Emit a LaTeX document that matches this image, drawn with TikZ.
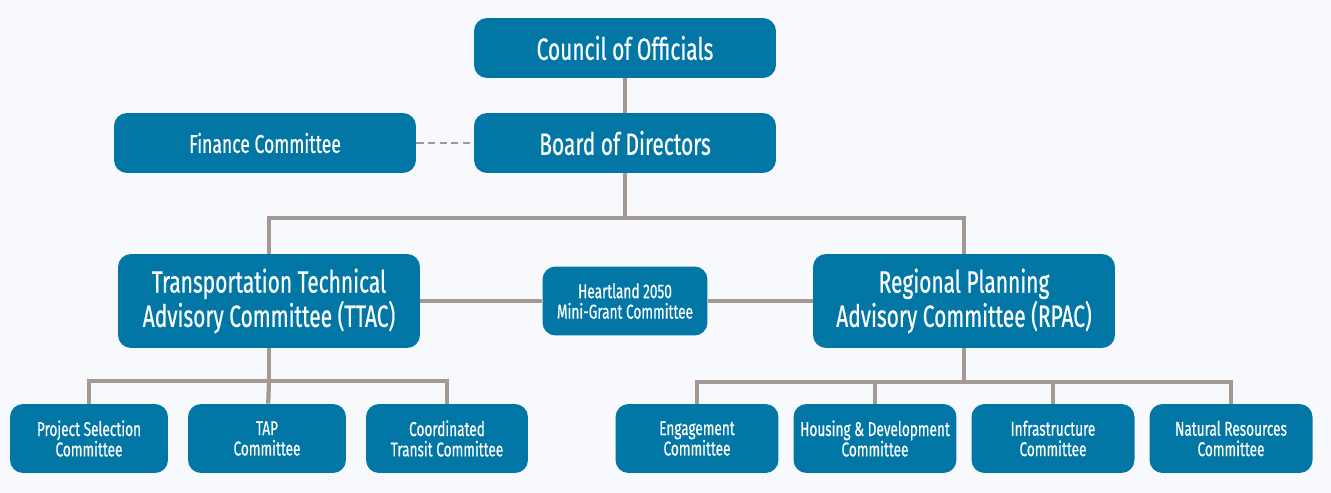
\documentclass[tikz,border=0pt]{standalone}
\usepackage{fontspec}
\setmainfont{Fira Sans}[FakeStretch=0.68, FakeBold=0.5]
\definecolor{boxblau}{HTML}{0277A6}
\definecolor{linie}{HTML}{A39894}
\definecolor{hinter}{HTML}{F8F9FC}
\tikzset{
  kasten/.style={fill=boxblau, text=white, rounded corners=0.26cm, align=center, inner sep=0pt},
  gross/.style={kasten, minimum width=6.04cm, font=\fontsize{17.5}{18.5}\selectfont},
  mittel/.style={kasten, minimum width=6.04cm, minimum height=1.2cm, font=\fontsize{14.7}{16}\selectfont},
  klein/.style={kasten, minimum height=1.38cm, font=\fontsize{11.4}{11.6}\selectfont},
  verb/.style={draw=linie, line width=2.4pt}
}
\begin{document}
\begin{tikzpicture}[x=0.02cm, y=-0.02cm]
    % Hintergrund
    \fill [hinter] (0, 0) rectangle (1331, 493);
    \useasboundingbox (0, 0) rectangle (1331, 493);
    % Obere Ebene
    \node [gross, minimum height=1.2cm] (rat) at (625, 48) {Council of Officials};
    \node [gross, minimum height=1.2cm] (vorstand) at (625, 143) {Board of Directors};
    \node [mittel] (finanzen) at (265, 143) {Finance Committee};
    % Mittlere Ebene
    \node [gross, minimum height=1.88cm] (ttac) at (269, 301) {Transportation Technical\\Advisory Committee (TTAC)};
    \node [gross, minimum height=1.88cm] (rpac) at (964, 301) {Regional Planning\\Advisory Committee (RPAC)};
    \node [klein, minimum width=3.3cm] (heartland) at (625, 301) {Heartland 2050\\Mini-Grant Committee};
    % Untere Ebene links
    \node [klein, minimum width=3.16cm] (projekt) at (89, 438.5) {Project Selection\\Committee};
    \node [klein, minimum width=3.16cm] (tap) at (267, 438.5) {TAP\\Committee};
    \node [klein, minimum width=3.24cm] (transit) at (447, 438.5) {Coordinated\\Transit Committee};
    % Untere Ebene rechts
    \node [klein, minimum width=3.26cm] (engagement) at (697, 438.5) {Engagement\\Committee};
    \node [klein, minimum width=3.26cm] (wohnen) at (875, 438.5) {Housing \& Development\\Committee};
    \node [klein, minimum width=3.26cm] (infra) at (1053, 438.5) {Infrastructure\\Committee};
    \node [klein, minimum width=3.26cm] (natur) at (1231, 438.5) {Natural Resources\\Committee};
    % Verbindungen
    \coordinate (gabel) at (625, 218);
    \coordinate (gabelttac) at (269, 381);
    \coordinate (gabelrpac) at (964, 382);
    \draw [verb] (rat) -- (vorstand);
    \draw [draw=linie, line width=1.7pt, dash pattern=on 4.2pt off 2.4pt] (finanzen) -- (vorstand);
    \draw [verb] (vorstand) -- (gabel);
    \draw [verb] (gabel) -| (ttac);
    \draw [verb] (gabel) -| (rpac);
    \draw [verb] (ttac) -- (heartland) -- (rpac);
    \draw [verb] (ttac) -- (gabelttac);
    \draw [verb] (gabelttac) -| (projekt);
    \draw [verb] (gabelttac) -| (transit);
    \draw [verb] (gabelttac) -- (tap);
    \draw [verb] (rpac) -- (gabelrpac);
    \draw [verb] (gabelrpac) -| (engagement);
    \draw [verb] (gabelrpac) -| (wohnen);
    \draw [verb] (gabelrpac) -| (infra);
    \draw [verb] (gabelrpac) -| (natur);
\end{tikzpicture}
\end{document}
